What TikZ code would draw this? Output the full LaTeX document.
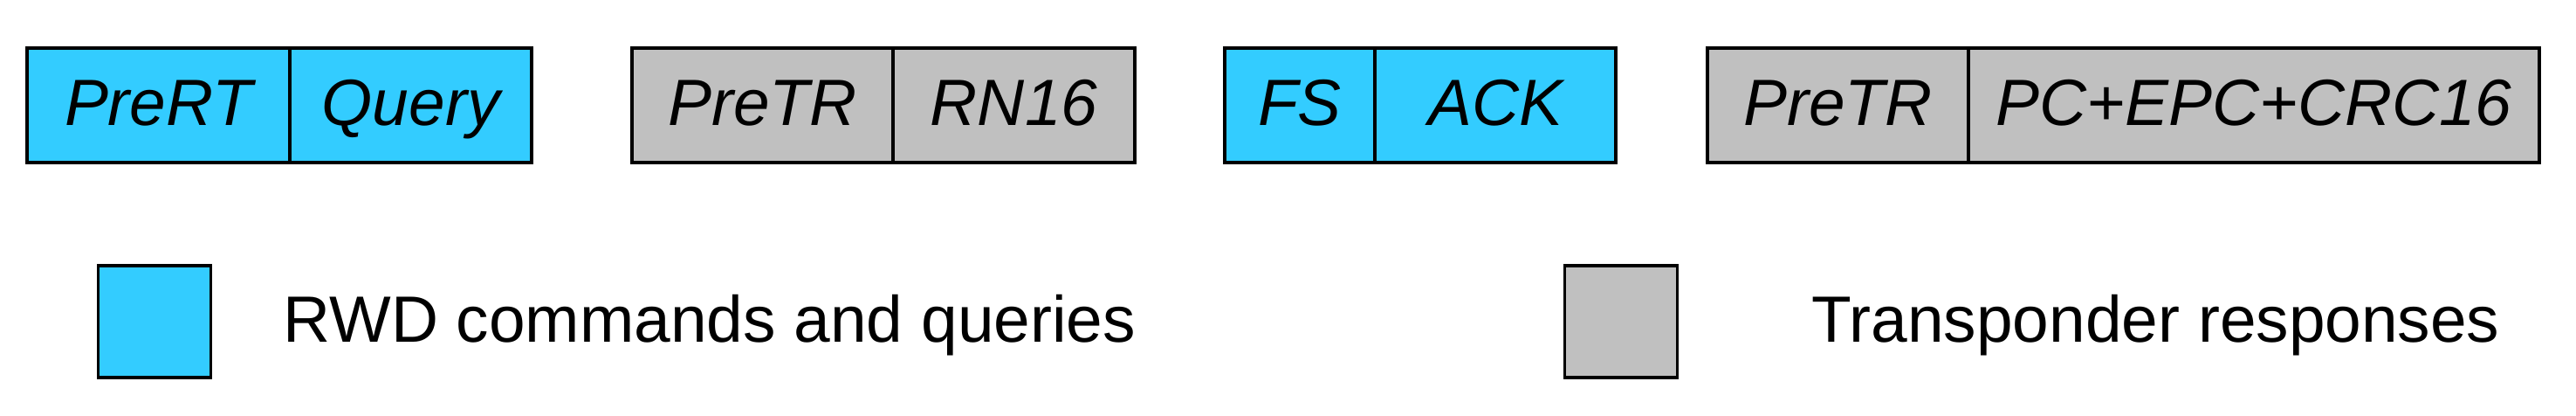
\documentclass[tikz,border=0pt]{standalone}
\usepackage{fontspec}
\setmainfont{Liberation Sans}
\usetikzlibrary{positioning}
\definecolor{rwdcyan}{RGB}{51,204,255}
\definecolor{taggray}{RGB}{192,192,192}

\begin{document}
\begin{tikzpicture}[field/.style={draw,line width=0.6pt,minimum height=1.29cm,inner sep=0pt,
                                  text height=0.6cm,text depth=0.15cm,font=\fontsize{21.3}{25}\selectfont\itshape},
                    reader field/.style={field,fill=rwdcyan},
                    tag field/.style={field,fill=taggray},
                    frame/.style={line width=1.1pt},
                    key/.style={draw,line width=1.1pt,minimum width=1.29cm,minimum height=1.28cm,inner sep=0pt},
                    legend/.style={anchor=base west,inner sep=0pt,font=\fontsize{21.3}{25}\selectfont}]
  \useasboundingbox (0,0) rectangle (29.51,4.75);

  % reader: preamble + query
  \node[reader field,minimum width=2.99cm] (prert) at (1.815,3.545) {PreRT};
  \node[reader field,minimum width=2.75cm,right=0pt of prert] (query) {Query};
  \draw[frame] (prert.north west) rectangle (query.south east);

  % tag: preamble + RN16
  \node[tag field,minimum width=2.97cm] (pretr1) at (8.735,3.545) {PreTR};
  \node[tag field,minimum width=2.75cm,right=0pt of pretr1] (rn16) {RN16};
  \draw[frame] (pretr1.north west) rectangle (rn16.south east);

  % reader: frame sync + ACK
  \node[reader field,minimum width=1.70cm] (fs) at (14.89,3.545) {FS};
  \node[reader field,minimum width=2.74cm,right=0pt of fs] (ack) {ACK};
  \draw[frame] (fs.north west) rectangle (ack.south east);

  % tag: preamble + PC/EPC/CRC
  \node[tag field,minimum width=2.97cm] (pretr2) at (21.055,3.545) {PreTR};
  \node[tag field,minimum width=6.52cm,right=0pt of pretr2] (epc) {PC+EPC+CRC16};
  \draw[frame] (pretr2.north west) rectangle (epc.south east);

  % legend
  \node[key,fill=rwdcyan] (rwdkey) at (1.77,1.07) {};
  \node[legend] (rwdtext) at (3.24,0.84) {RWD commands and queries};
  \node[key,fill=taggray] (tagkey) at (18.57,1.07) {};
  \node[legend] (tagtext) at (20.75,0.84) {Transponder responses};
\end{tikzpicture}
\end{document}
